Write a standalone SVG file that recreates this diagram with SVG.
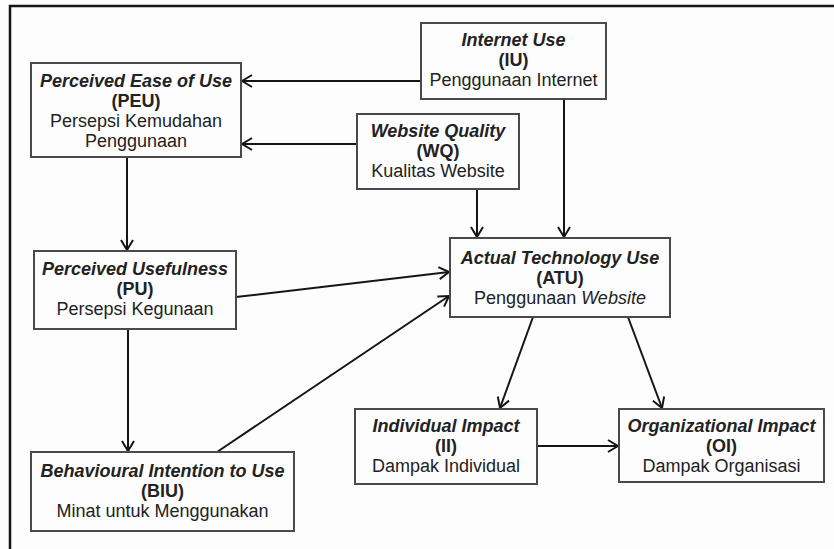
<svg xmlns="http://www.w3.org/2000/svg" width="834" height="549" viewBox="0 0 834 549">
<style>
.box{fill:#fdfdfd;stroke:#4a4a4a;stroke-width:2}
.t{font-family:"Liberation Sans",Arial,sans-serif;font-size:18px;fill:#222;text-anchor:middle}
.bi{font-weight:bold;font-style:italic}
.b{font-weight:bold}
.c{stroke:#151515;stroke-width:2;fill:none;marker-end:url(#ah)}
</style>
<defs>
<marker id="ah" markerUnits="userSpaceOnUse" viewBox="0 0 12 14" markerWidth="12" markerHeight="14" refX="11" refY="7" orient="auto">
<path d="M1,1 L11,7 L1,13" fill="none" stroke="#151515" stroke-width="2"/>
</marker>
</defs>
<rect x="0" y="0" width="834" height="549" fill="#fdfdfd"/>
<path d="M10,549 L10,6 L834,6" fill="none" stroke="#151515" stroke-width="2.5"/>
<g id="connectors">
<line class="c" x1="421" y1="81" x2="242" y2="81"/>
<line class="c" x1="357" y1="144" x2="242" y2="144"/>
<line class="c" x1="564" y1="99" x2="564" y2="237"/>
<line class="c" x1="477" y1="189" x2="477" y2="237"/>
<line class="c" x1="127" y1="157" x2="127" y2="250"/>
<line class="c" x1="236" y1="297" x2="449" y2="272"/>
<line class="c" x1="217" y1="452" x2="449" y2="296"/>
<line class="c" x1="128" y1="329" x2="128" y2="451"/>
<line class="c" x1="533" y1="317" x2="500" y2="408"/>
<line class="c" x1="628" y1="317" x2="662" y2="408"/>
<line class="c" x1="537" y1="446" x2="618" y2="446"/>
</g>
<g id="IU">
<rect class="box" x="421" y="23" width="185" height="76"/>
<text class="t bi" x="513.5" y="46">Internet Use</text>
<text class="t b" x="513.5" y="66">(IU)</text>
<text class="t" x="513.5" y="86">Penggunaan Internet</text>
</g>
<g id="PEU">
<rect class="box" x="31" y="63" width="210" height="94"/>
<text class="t bi" x="136" y="87">Perceived Ease of Use</text>
<text class="t b" x="136" y="107">(PEU)</text>
<text class="t" x="136" y="127">Persepsi Kemudahan</text>
<text class="t" x="136" y="147">Penggunaan</text>
</g>
<g id="WQ">
<rect class="box" x="357" y="114" width="162" height="75"/>
<text class="t bi" x="438" y="137">Website Quality</text>
<text class="t b" x="438" y="157">(WQ)</text>
<text class="t" x="438" y="177">Kualitas Website</text>
</g>
<g id="PU">
<rect class="box" x="34" y="251" width="202" height="78"/>
<text class="t bi" x="135" y="275">Perceived Usefulness</text>
<text class="t b" x="135" y="295">(PU)</text>
<text class="t" x="135" y="315">Persepsi Kegunaan</text>
</g>
<g id="ATU">
<rect class="box" x="450" y="238" width="220" height="79"/>
<text class="t bi" x="560" y="264">Actual Technology Use</text>
<text class="t b" x="560" y="284">(ATU)</text>
<text class="t" x="560" y="304">Penggunaan <tspan font-style="italic">Website</tspan></text>
</g>
<g id="BIU">
<rect class="box" x="31" y="452" width="263" height="79"/>
<text class="t bi" x="162.5" y="477">Behavioural Intention to Use</text>
<text class="t b" x="162.5" y="497">(BIU)</text>
<text class="t" x="162.5" y="517">Minat untuk Menggunakan</text>
</g>
<g id="II">
<rect class="box" x="355" y="409" width="182" height="75"/>
<text class="t bi" x="446" y="432">Individual Impact</text>
<text class="t b" x="446" y="452">(II)</text>
<text class="t" x="446" y="472">Dampak Individual</text>
</g>
<g id="OI">
<rect class="box" x="619" y="409" width="205" height="73"/>
<text class="t bi" x="721.5" y="432">Organizational Impact</text>
<text class="t b" x="721.5" y="452">(OI)</text>
<text class="t" x="721.5" y="472">Dampak Organisasi</text>
</g>
</svg>
